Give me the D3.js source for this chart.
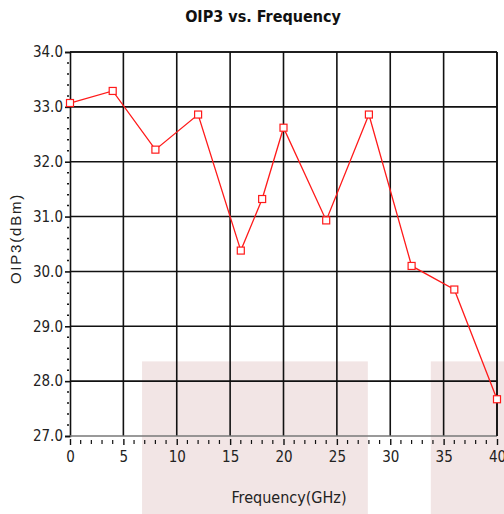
<!DOCTYPE html>
<html><head><meta charset="utf-8">
<script src="https://cdn.jsdelivr.net/npm/d3@7"></script>
<style>body{margin:0;background:#fff;}svg{display:block;}</style>
</head><body>
<script>
const freq = [0, 4, 8, 12, 16, 18, 20, 24, 28, 32, 36, 40];
const oip3 = [33.07, 33.29, 32.22, 32.86, 30.38, 31.32, 32.62, 30.93, 32.86, 30.10, 29.67, 27.67];
const xTicks = [0, 5, 10, 15, 20, 25, 30, 35, 40];
const yTicks = [27, 28, 29, 30, 31, 32, 33, 34];
const shadeX = [[6.75, 27.9], [33.8, 45]];
const shadeYTop = 28.36;

const W = 504, H = 514;
const m = {l: 70, r: 7, t: 52, b: 78};
const svg = d3.select("body").append("svg").attr("width", W).attr("height", H);
const x = d3.scaleLinear().domain([0, 40]).range([m.l, W - m.r]);
const y = d3.scaleLinear().domain([27, 34]).range([H - m.b, m.t]);
const FONT = "'DejaVu Sans Condensed', 'Liberation Sans Narrow', 'Liberation Sans', sans-serif";

// background shading
svg.selectAll("rect.shade").data(shadeX).enter().append("rect")
  .attr("x", d => x(d[0])).attr("width", d => x(d[1]) - x(d[0]))
  .attr("y", y(shadeYTop)).attr("height", H - y(shadeYTop))
  .attr("fill", "#f2e5e5");

// grid
const g = svg.append("g");
g.selectAll("line.v").data(xTicks.slice(1)).enter().append("line")
  .attr("x1", d => x(d)).attr("x2", d => x(d)).attr("y1", y(34)).attr("y2", y(27))
  .attr("stroke", "#111").attr("stroke-width", 1.6);
g.selectAll("line.h").data(yTicks.slice(1)).enter().append("line")
  .attr("x1", x(0)).attr("x2", x(40)).attr("y1", d => y(d)).attr("y2", d => y(d))
  .attr("stroke", "#111").attr("stroke-width", 1.6);

// axes
const yAxis = d3.axisLeft(y).tickValues(yTicks).tickFormat(d3.format(".1f")).tickSize(5).tickPadding(2);
const yg = svg.append("g").attr("transform", `translate(${x(0)},0)`).call(yAxis);
yg.select(".domain").attr("stroke", "#111").attr("stroke-width", 1.6);
yg.selectAll(".tick line").attr("stroke", "#111").attr("stroke-width", 1.6);
yg.selectAll("text").attr("font-family", FONT)
  .attr("font-size", 15).attr("fill", "#222");
const yMinor = d3.range(27, 34.001, 0.2).filter(v => Math.abs(v - Math.round(v)) > 0.01);
svg.selectAll("line.ym").data(yMinor).enter().append("line")
  .attr("x1", x(0) - 3).attr("x2", x(0) - 1).attr("y1", d => y(d)).attr("y2", d => y(d))
  .attr("stroke", "#111").attr("stroke-width", 1.5);

const xAxis = d3.axisBottom(x).tickValues(xTicks).tickSize(9).tickPadding(6);
const xg = svg.append("g").attr("transform", `translate(0,${y(27)})`).call(xAxis);
xg.select(".domain").attr("stroke", "#777").attr("stroke-width", 1.6).attr("d", `M${x(0)},0H${x(40)}`);
xg.selectAll(".tick line").attr("stroke", "#111").attr("stroke-width", 1.4).attr("y1", 3);
xg.selectAll("text").attr("font-family", FONT)
  .attr("font-size", 15).attr("fill", "#222");
const xMinor = d3.range(1, 40).filter(v => v % 5 !== 0);
svg.selectAll("line.xm").data(xMinor).enter().append("line")
  .attr("x1", d => x(d)).attr("x2", d => x(d)).attr("y1", y(27) + 4).attr("y2", y(27) + 8)
  .attr("stroke", "#111").attr("stroke-width", 1.2);

// frame top/right
svg.append("line").attr("x1", x(0)).attr("x2", x(40)).attr("y1", y(34)).attr("y2", y(34)).attr("stroke", "#111").attr("stroke-width", 1.6);
svg.append("line").attr("x1", x(40)).attr("x2", x(40)).attr("y1", y(34)).attr("y2", y(27)).attr("stroke", "#111").attr("stroke-width", 1.6);

// series
const pts = freq.map((f, i) => [f, oip3[i]]);
svg.append("path").datum(pts)
  .attr("d", d3.line().x(d => x(d[0])).y(d => y(d[1])))
  .attr("fill", "none").attr("stroke", "#ff1a1a").attr("stroke-width", 1.3);
svg.selectAll("rect.mk").data(pts).enter().append("rect")
  .attr("x", d => x(d[0]) - 3.5).attr("y", d => y(d[1]) - 3.5).attr("width", 7).attr("height", 7)
  .attr("fill", "#fff").attr("stroke", "#ff1a1a").attr("stroke-width", 1.2);

// titles
svg.append("text").attr("x", 263).attr("y", 22).attr("text-anchor", "middle")
  .attr("font-family", FONT)
  .attr("font-weight", "bold").attr("font-size", 16).attr("fill", "#111").text("OIP3 vs. Frequency");
svg.append("text").attr("x", 289).attr("y", 503).attr("text-anchor", "middle")
  .attr("font-family", FONT)
  .attr("font-size", 16).attr("fill", "#222").text("Frequency(GHz)");
svg.append("text").attr("transform", `translate(21,${y(30.6)}) rotate(-90)`).attr("text-anchor", "middle")
  .attr("font-family", "'Liberation Sans', Arial, sans-serif").attr("letter-spacing", 1.8)
  .attr("font-size", 15).attr("fill", "#222").text("OIP3(dBm)");
</script>
</body></html>
